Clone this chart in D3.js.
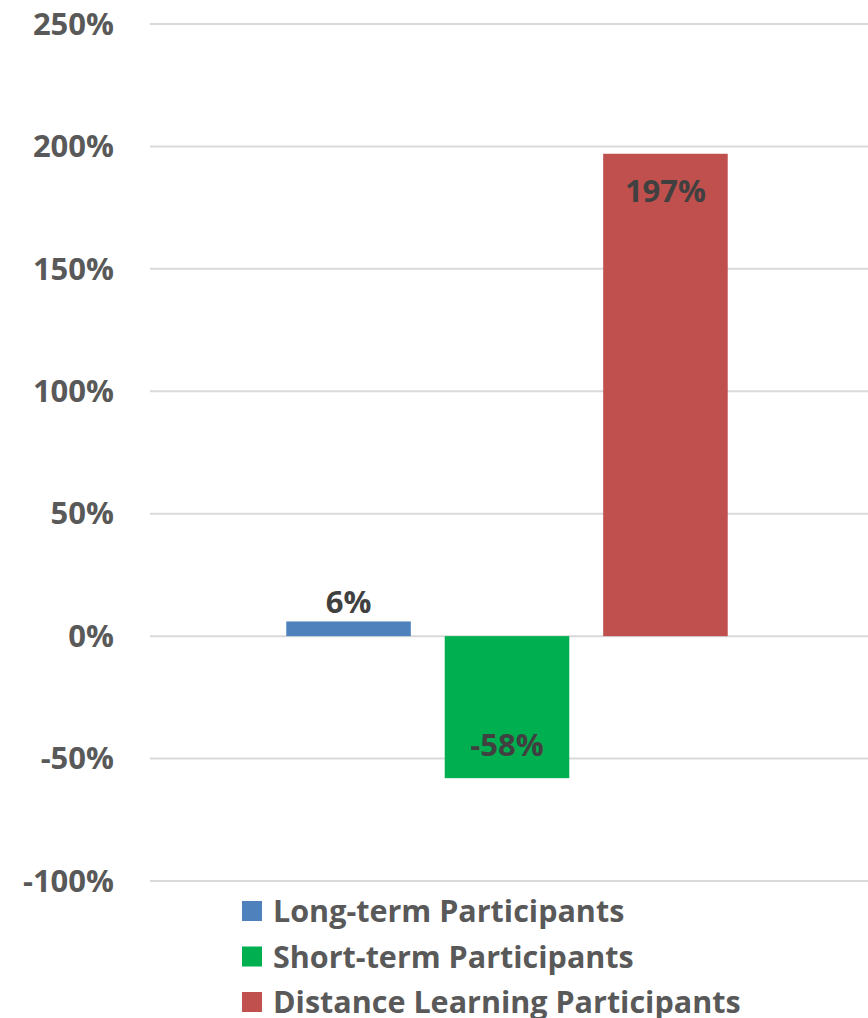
<!DOCTYPE html>
<html>
<head>
<meta charset="utf-8">
<script src="https://cdn.jsdelivr.net/npm/d3@7"></script>
<style>
  html, body { margin: 0; padding: 0; background: #fff; overflow: hidden; }
  svg { display: block; }
  text { font-family: "Open Sans", "Noto Sans", sans-serif; font-weight: bold; }
</style>
</head>
<body>
<svg id="chart" width="868" height="1018"></svg>
<script>
const series = ["Long-term Participants", "Short-term Participants", "Distance Learning Participants"];
const values = [6, -58, 197];
const colors = ["#4F81BD", "#00B050", "#C0504D"];
const yTicks = [-100, -50, 0, 50, 100, 150, 200, 250];

const svg = d3.select("#chart");
const W = 868, H = 1018;
const plot = { left: 150, right: 864, top: 24, bottom: 881 };

const y = d3.scaleLinear().domain([-100, 250]).range([plot.bottom, plot.top]);
const x = d3.scaleBand().domain(series).range([plot.left, plot.right])
  .paddingInner(0.214).paddingOuter(0.86);

// gridlines
svg.append("g").selectAll("line").data(yTicks).join("line")
  .attr("x1", plot.left).attr("x2", W)
  .attr("y1", d => y(d)).attr("y2", d => y(d))
  .attr("stroke", "#D9D9D9").attr("stroke-width", 2);

// y axis labels
const yAxis = d3.axisLeft(y).tickValues(yTicks).tickFormat(d => d + "%").tickSize(0).tickPadding(0);
const ga = svg.append("g").attr("transform", "translate(114,0)").call(yAxis);
ga.select(".domain").remove();
ga.selectAll("text").attr("fill", "#595959").style("font-size", "31px")
  .attr("font-family", null).attr("dy", "0.33em");

// bars
svg.append("g").selectAll("rect").data(values).join("rect")
  .attr("x", (d, i) => x(series[i]))
  .attr("width", x.bandwidth())
  .attr("y", d => y(Math.max(0, d)))
  .attr("height", d => Math.abs(y(d) - y(0)))
  .attr("fill", (d, i) => colors[i]);

// data labels
svg.append("g").selectAll("text").data(values).join("text")
  .attr("x", (d, i) => x(series[i]) + x.bandwidth() / 2)
  .attr("y", (d, i) => {
    if (i === 0) return y(d) - 8;
    if (d < 0) return y(d) - 22;
    return y(d) + 48;
  })
  .attr("text-anchor", "middle")
  .attr("fill", "#404040")
  .style("font-size", "31px")
  .text(d => d + "%");

// legend
const lg = svg.append("g");
series.forEach((s, i) => {
  const yy = 901 + i * 45.5;
  lg.append("rect").attr("x", 242).attr("y", yy).attr("width", 20).attr("height", 20).attr("fill", colors[i]);
  lg.append("text").attr("x", 273).attr("y", yy + 21).attr("fill", "#595959")
    .style("font-size", "30.5px").text(s);
});
</script>
</body>
</html>
